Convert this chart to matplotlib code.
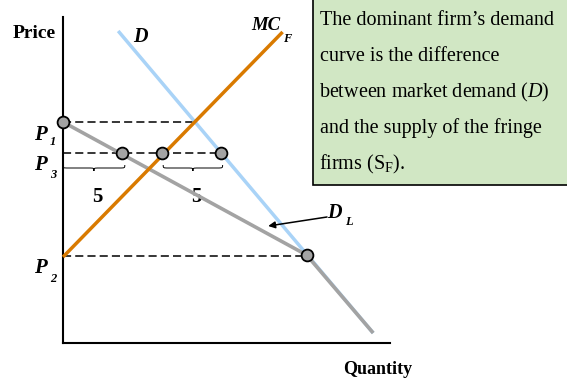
import numpy as np
import matplotlib.pyplot as plt
from matplotlib.path import Path
from matplotlib.patches import PathPatch, Rectangle

plt.rcParams['font.family'] = ['Liberation Serif', 'DejaVu Serif']
plt.rcParams['mathtext.fontset'] = 'custom'
plt.rcParams['mathtext.rm'] = 'Liberation Serif'
plt.rcParams['mathtext.it'] = 'Liberation Serif:italic'

# market demand D
demand_q = [4.6, 25.85]
demand_p = [31.2, 1.0]
# fringe supply MC_F
mc_q = [0.0, 18.3]
mc_p = [8.6, 31.1]
# dominant firm's demand D_L (kinked)
dl_q = [0.0, 20.3, 25.85]
dl_p = [22.1, 8.8, 1.0]

# price levels
p1, p3, p2 = 22.1, 19.0, 8.7
p1_end = 11.0                    # D meets MC_F at P1
p3_q = [4.95, 8.28, 13.14]       # D_L, MC_F, D at P3
kink_q, kink_p = 20.3, 8.85
braces = [(0.0, 5.15), (8.35, 13.3)]
brace_labels = ['5', '5']

BLUE = '#a9d3f7'
ORANGE = '#d97a00'
GRAY = '#a3a3a3'
GREEN = '#d1e7c4'


def brace(ax, x0, x1, y, h, r=0.45):
    xm = (x0 + x1) / 2
    ym = y - h / 2
    verts = [(x0, y), (x0, ym), (x0, ym), (x0 + r, ym),
             (xm - r, ym),
             (xm, ym), (xm, ym), (xm, y - h),
             (xm, ym), (xm, ym), (xm + r, ym),
             (x1 - r, ym),
             (x1, ym), (x1, ym), (x1, y)]
    codes = [Path.MOVETO, Path.CURVE4, Path.CURVE4, Path.CURVE4,
             Path.LINETO,
             Path.CURVE4, Path.CURVE4, Path.CURVE4,
             Path.CURVE4, Path.CURVE4, Path.CURVE4,
             Path.LINETO,
             Path.CURVE4, Path.CURVE4, Path.CURVE4]
    ax.add_patch(PathPatch(Path(verts, codes), fc='none', ec='black',
                           lw=0.7, clip_on=False))


def label(fig, x, y, main, sub, xs, ys, size=14, subsize=9):
    # bold italic letter with a lowered subscript, positions in pixels
    kw = dict(fontweight='bold', style='italic', ha='left', va='baseline')
    fig.text(x / 567, 1 - y / 384, main, fontsize=size, **kw)
    fig.text(xs / 567, 1 - ys / 384, sub, fontsize=subsize, **kw)


fig = plt.figure(figsize=(5.67, 3.84), dpi=100)
ax = fig.add_axes([63 / 567, 41 / 384, 327 / 567, 326 / 384])
ax.set_xlim(0, 27.25)
ax.set_ylim(0, 32.6)
for s in ['top', 'right']:
    ax.spines[s].set_visible(False)
for s in ['left', 'bottom']:
    ax.spines[s].set_linewidth(1.5)
ax.set_xticks([])
ax.set_yticks([])
ax.patch.set_alpha(0)

dash = (0, (5.3, 2.7))
ax.plot([0, p1_end], [p1, p1], color='black', lw=1.1, ls=dash, clip_on=False, zorder=2)
ax.plot([0, p3_q[-1]], [p3, p3], color='black', lw=1.1, ls=dash, clip_on=False, zorder=2)
ax.plot([0, kink_q], [p2, p2], color='black', lw=1.1, ls=dash, clip_on=False, zorder=2)

ax.plot(demand_q, demand_p, color=BLUE, lw=2.5, solid_capstyle='butt', zorder=3)
ax.plot(dl_q, dl_p, color=GRAY, lw=2.6, solid_capstyle='butt', clip_on=False, zorder=4)
ax.plot(mc_q, mc_p, color=ORANGE, lw=2.5, solid_capstyle='butt', clip_on=False, zorder=5)

mk = dict(marker='o', ms=8.5, mfc=GRAY, mec='black', mew=1.3, ls='none',
          clip_on=False, zorder=6)
ax.plot([0], [p1], **mk)
ax.plot(p3_q, [p3] * len(p3_q), **mk)
ax.plot([kink_q], [kink_p], **mk)

for (b0, b1), lab in zip(braces, brace_labels):
    brace(ax, b0, b1, 17.8, 0.6)
    ax.text((b0 + b1) / 2 + 0.3, 14.6, lab, fontsize=15, fontweight='bold',
            ha='center', va='center')

ax.annotate('', xy=(17.1, 11.7), xytext=(22.0, 12.6),
            arrowprops=dict(arrowstyle='-|>', color='black', lw=1.1,
                            mutation_scale=10, shrinkA=0, shrinkB=0))

ax.text(-2.42, 31.0, 'Price', fontsize=14, fontweight='bold', ha='center', va='center')
ax.text(26.25, -2.7, 'Quantity', fontsize=13, fontweight='bold', ha='center', va='center')
ax.text(6.42, 30.6, 'D', fontsize=14.5, fontweight='bold', style='italic',
        ha='center', va='center')

label(fig, 251, 30, 'MC', 'F', 283, 42, size=13.5)
label(fig, 327, 218, 'D', 'L', 345, 225, size=14.5)
label(fig, 34, 140, 'P', '1', 50, 145, size=15)
label(fig, 34, 170, 'P', '3', 50, 178, size=15)
label(fig, 34, 273, 'P', '2', 50, 282, size=15)

# explanatory note box
fig.patches.append(Rectangle((313 / 567, 1 - 185 / 384), 0.5, 0.6,
                             transform=fig.transFigure, fc=GREEN, ec='black',
                             lw=1.2, zorder=0))
note_lines = ['The dominant firm\u2019s demand',
              'curve is the difference',
              r'between market demand ($D$)',
              'and the supply of the fringe',
              r'firms (S$_\mathrm{F}$).']
for i, line in enumerate(note_lines):
    x0 = 320 if '$' not in line else 319
    fig.text(x0 / 567, 1 - (25 + 36 * i) / 384, line, fontsize=14.5,
             ha='left', va='baseline')

fig.savefig('out.png', dpi=100)
